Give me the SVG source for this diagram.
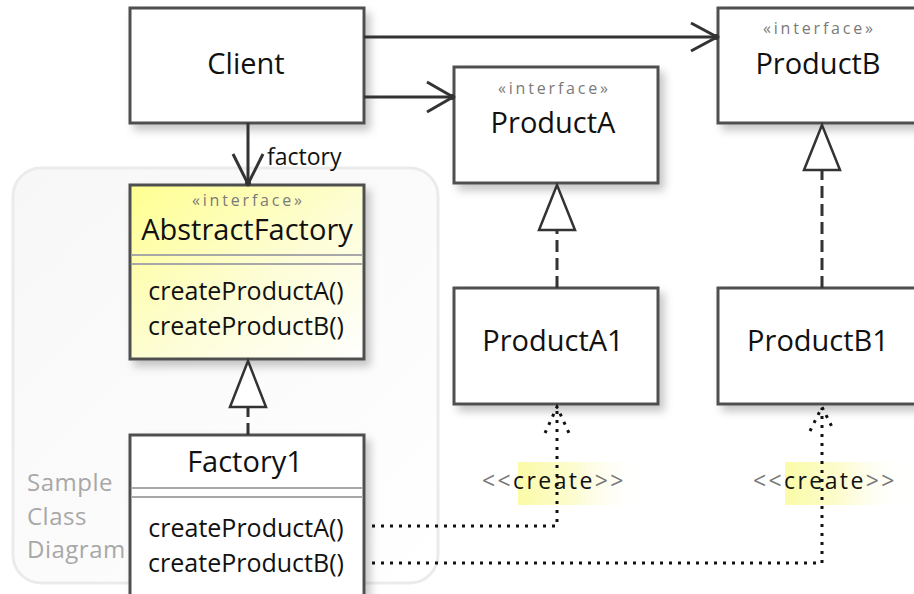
<svg xmlns="http://www.w3.org/2000/svg" width="914" height="594" viewBox="0 0 914 594">
  <defs>
    <linearGradient id="ifaceFill" x1="0" y1="0" x2="1" y2="1">
      <stop offset="0" stop-color="#ffff90"/>
      <stop offset="0.55" stop-color="#fdfdd6"/>
      <stop offset="1" stop-color="#ffffff"/>
    </linearGradient>
    <linearGradient id="hl" x1="0" y1="0" x2="1" y2="0">
      <stop offset="0" stop-color="#fbfba8"/>
      <stop offset="0.45" stop-color="#fcfcd0"/>
      <stop offset="1" stop-color="#ffffff" stop-opacity="0"/>
    </linearGradient>
    <linearGradient id="frameFill" x1="0" y1="0" x2="1" y2="1">
      <stop offset="0" stop-color="#f7f7f7"/>
      <stop offset="1" stop-color="#ffffff"/>
    </linearGradient>
    <filter id="shadow" x="-10%" y="-10%" width="130%" height="130%">
      <feDropShadow dx="5" dy="6" stdDeviation="4" flood-color="#000" flood-opacity="0.22"/>
    </filter>
    <style>
      .box { fill: #ffffff; stroke: #505050; stroke-width: 3; filter: url(#shadow); }
      .sep { stroke: #a8a8a8; stroke-width: 2; }
      .name { font-family: "Open Sans", "Liberation Sans", sans-serif; font-size: 29px; fill: #111; text-anchor: middle; }
      .stereo { font-family: "Open Sans", "Liberation Sans", sans-serif; font-size: 16px; fill: #7a7a7a; text-anchor: middle; }
      .op { font-family: "Open Sans", "Liberation Sans", sans-serif; font-size: 25px; fill: #111; text-anchor: middle; }
      .lbl { font-family: "Open Sans", "Liberation Sans", sans-serif; font-size: 23px; fill: #111; }
      .frameText { font-family: "Open Sans", "Liberation Sans", sans-serif; font-size: 24px; fill: #a8a8a8; letter-spacing: 0.5px; }
      .solid { fill: none; stroke: #333; stroke-width: 3; }
      .dashed { fill: none; stroke: #333; stroke-width: 3; stroke-dasharray: 12 6; }
      .dotted { fill: none; stroke: #111; stroke-width: 3; stroke-dasharray: 3 6; }
      .tri { fill: #ffffff; stroke: #333; stroke-width: 2.5; stroke-linejoin: miter; }
      .create { font-family: "Open Sans", "Liberation Sans", sans-serif; font-size: 23px; letter-spacing: 2.4px; }
    </style>
  </defs>

  <rect width="914" height="594" fill="#ffffff"/>

  <!-- diagram frame with its caption -->
  <g id="frame">
    <rect x="13" y="168" width="425" height="415" rx="28" fill="url(#frameFill)" stroke="#ebebeb" stroke-width="3"/>
    <text class="frameText" x="27" y="491">Sample</text>
    <text class="frameText" x="27" y="525">Class</text>
    <text class="frameText" x="27" y="558">Diagram</text>
  </g>

  <!-- create labels -->
  <g id="labels">
    <rect x="518" y="462" width="125" height="43" fill="url(#hl)"/>
    <text class="create" x="482" y="489"><tspan fill="#777">&lt;&lt;</tspan><tspan fill="#111">create</tspan><tspan fill="#777">&gt;&gt;</tspan></text>
    <rect x="785" y="462" width="125" height="43" fill="url(#hl)"/>
    <text class="create" x="753" y="489"><tspan fill="#777">&lt;&lt;</tspan><tspan fill="#111">create</tspan><tspan fill="#777">&gt;&gt;</tspan></text>
  </g>

  <!-- classes -->
  <g id="Client">
    <rect class="box" x="130" y="8" width="234" height="115"/>
    <text class="name" x="246" y="74">Client</text>
  </g>

  <g id="ProductA">
    <rect class="box" x="454" y="67" width="204" height="116"/>
    <text class="stereo" x="553" y="94" textLength="110" lengthAdjust="spacing">«interface»</text>
    <text class="name" x="553" y="133">ProductA</text>
  </g>

  <g id="ProductB">
    <rect class="box" x="718" y="8" width="208" height="115"/>
    <text class="stereo" x="818" y="34" textLength="110" lengthAdjust="spacing">«interface»</text>
    <text class="name" x="818" y="74">ProductB</text>
  </g>

  <g id="AbstractFactory">
    <rect class="box" x="130" y="185" width="234" height="174" style="fill:url(#ifaceFill)"/>
    <text class="stereo" x="247" y="206" textLength="110" lengthAdjust="spacing">«interface»</text>
    <text class="name" x="247" y="240">AbstractFactory</text>
    <line class="sep" x1="131.5" y1="255" x2="362.5" y2="255"/>
    <line class="sep" x1="131.5" y1="264" x2="362.5" y2="264"/>
    <text class="op" x="246" y="300">createProductA()</text>
    <text class="op" x="246" y="335">createProductB()</text>
  </g>

  <g id="Factory1">
    <rect class="box" x="130" y="435" width="234" height="175"/>
    <text class="name" x="245" y="472">Factory1</text>
    <line class="sep" x1="131.5" y1="488" x2="362.5" y2="488"/>
    <line class="sep" x1="131.5" y1="497" x2="362.5" y2="497"/>
    <text class="op" x="246" y="537">createProductA()</text>
    <text class="op" x="246" y="572">createProductB()</text>
  </g>

  <g id="ProductA1">
    <rect class="box" x="454" y="288" width="204" height="116"/>
    <text class="name" x="553" y="351">ProductA1</text>
  </g>

  <g id="ProductB1">
    <rect class="box" x="718" y="288" width="208" height="116"/>
    <text class="name" x="818" y="351">ProductB1</text>
  </g>

  <!-- connectors -->
  <g id="connectors">
    <!-- Client associations -->
    <line class="solid" x1="364" y1="37" x2="716" y2="37"/>
    <path class="solid" d="M691,23 L717,37 L691,51"/>
    <circle cx="716" cy="37" r="3" fill="#333"/>

    <line class="solid" x1="364" y1="97" x2="452" y2="97"/>
    <path class="solid" d="M427,82 L453,97 L427,112"/>
    <circle cx="452" cy="97" r="3" fill="#333"/>

    <line class="solid" x1="248" y1="123" x2="248" y2="183"/>
    <path class="solid" d="M233,154 L248,184 L263,154"/>
    <circle cx="248" cy="183" r="3" fill="#333"/>
    <text class="lbl" x="267" y="165">factory</text>

    <!-- realizations -->
    <line class="dashed" x1="248" y1="435" x2="248" y2="407"/>
    <polygon class="tri" points="248,361 230,407 266,407"/>

    <line class="dashed" x1="557" y1="288" x2="557" y2="230"/>
    <polygon class="tri" points="557,185 539,230 575,230"/>

    <line class="dashed" x1="822" y1="288" x2="822" y2="170"/>
    <polygon class="tri" points="822,125 804,170 840,170"/>

    <!-- create dependencies -->
    <path class="dotted" d="M372,526 H557 V408"/>
    <path class="dotted" d="M545,433 L557,407 L569,433"/>

    <path class="dotted" d="M372,563 H822 V408"/>
    <path class="dotted" d="M810,431 L822,407 L834,431"/>
  </g>
</svg>
